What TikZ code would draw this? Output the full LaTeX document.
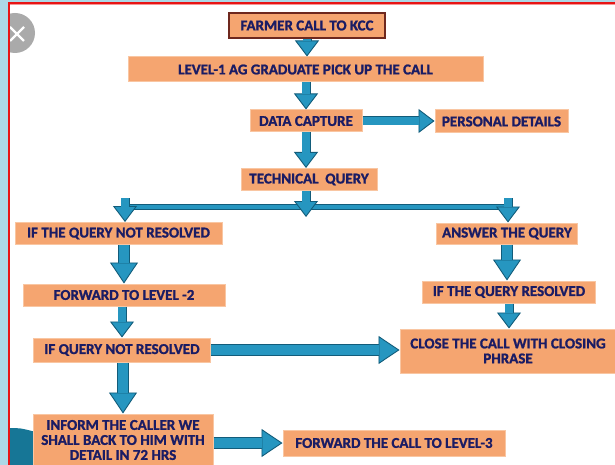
\documentclass[tikz,border=0pt]{standalone}
\usepackage{fontspec}
\setmainfont{Carlito}
\newfontfamily\heavy{Carlito}[FakeBold=1.3]
\usetikzlibrary{arrows.meta}
\definecolor{tl}{RGB}{38,150,192}
\definecolor{dk}{RGB}{18,92,122}
\definecolor{org}{RGB}{245,165,112}
\definecolor{orgedge}{RGB}{249,198,162}
\definecolor{navy}{RGB}{26,28,100}
\definecolor{sky}{RGB}{173,216,230}
\definecolor{framered}{RGB}{232,20,20}
\definecolor{maroon}{RGB}{110,40,30}
\definecolor{btn}{RGB}{170,170,170}
\definecolor{deepteal}{RGB}{22,118,150}
\newcommand\conn[5]{%
  \pgfmathsetlengthmacro\cinw{#1-1.8pt}%
  \pgfmathsetlengthmacro\cinsh{#3-0.7pt}%
  \draw[draw=dk, line width=#1, -{Triangle[width=#2,length=#3,fill=tl,line width=0.9pt]}] (#4) -- (#5);
  \draw[draw=tl, line width=\cinw, shorten >=\cinsh] (#4) -- (#5);
}
\newcommand\thinconn[2]{\conn{9pt}{24pt}{16pt}{#1}{#2}}
\newcommand\thickconn[2]{\conn{12pt}{28pt}{21pt}{#1}{#2}}
\begin{document}
\begin{tikzpicture}[x=1pt,y=-1pt,
  box/.style={fill=org, draw=orgedge, line width=1pt, inner sep=0pt, align=center,
    text=navy, font=\fontsize{15}{15}\selectfont\heavy\bfseries}]
\useasboundingbox (0,0) rectangle (615,465);
% screen frame
\fill[sky] (0,0) rectangle (615,465);
\fill[white] (9,4) rectangle (615,465);
\fill[deepteal] (9,465) -- (9,428) .. controls (20,428) .. (36,432) -- (36,465) -- cycle;
\begin{scope}
  \clip (9,4) rectangle (100,100);
  \fill[btn] (15,33) circle (20);
  \draw[white, line width=2.2pt] (10,27) -- (24,41) (10,41) -- (24,27);
\end{scope}
% boxes
\node[box, draw=maroon, line width=1.5pt, minimum width=156pt, minimum height=25pt] (farmer) at (307,25.5) {FARMER CALL TO KCC};
\node[box, minimum width=355pt, minimum height=25pt] (lvl1) at (305.5,69.5) {LEVEL-1 AG GRADUATE PICK UP THE CALL};
\node[box, minimum width=112pt, minimum height=22pt] (dc) at (306,121) {DATA CAPTURE};
\node[box, minimum width=133pt, minimum height=23pt] (pd) at (501.5,121.5) {PERSONAL DETAILS};
\node[box, minimum width=136pt, minimum height=22pt] (tq) at (309,179.5) {TECHNICAL\ \ QUERY};
\node[box, minimum width=207pt, minimum height=22pt] (iqnr) at (118.5,233.5) {IF THE QUERY NOT RESOLVED};
\node[box, minimum width=141pt, minimum height=21pt] (aq) at (507,233.5) {ANSWER THE QUERY};
\node[box, minimum width=202pt, minimum height=22pt] (fl2) at (124,295) {FORWARD TO LEVEL -2};
\node[box, minimum width=173pt, minimum height=22pt] (iqr) at (509,292) {IF THE QUERY RESOLVED};
\node[box, minimum width=177pt, minimum height=24pt] (iqnr2) at (122,350) {IF QUERY NOT RESOLVED};
\node[box, minimum width=216pt, minimum height=44pt] (close) at (508,351) {CLOSE THE CALL WITH CLOSING\\PHRASE};
\node[box, minimum width=180pt, minimum height=52pt] (inform) at (123,440) {INFORM THE CALLER WE\\SHALL BACK TO HIM WITH\\DETAIL IN 72 HRS};
\node[box, minimum width=222pt, minimum height=26pt] (fl3) at (394,443) {FORWARD THE CALL TO LEVEL-3};
% junction coordinates
\coordinate (tqend) at (306,217);
\coordinate (barL) at (125,207);
\coordinate (barR) at (508,207);
\coordinate (lTop) at (125,198);
\coordinate (rTop) at (508,198);
% connectors
\thinconn{farmer.south}{farmer.south |- lvl1.north}
\thinconn{dc.north |- lvl1.south}{dc.north}
\thinconn{dc.east}{dc.east -| pd.west}
\thinconn{dc.south}{dc.south |- tq.north}
\draw[dk, line width=6.5pt] (barL) -- (barR);
\draw[tl, line width=4.5pt] (barL) -- (barR);
\thinconn{tqend |- tq.south}{tqend}
\thinconn{lTop}{lTop |- iqnr.north}
\thinconn{rTop}{rTop |- aq.north}
\thickconn{fl2.north |- iqnr.south}{fl2.north}
\thickconn{aq.south}{aq.south |- iqr.north}
\thinconn{iqnr2.north |- fl2.south}{iqnr2.north}
\thinconn{iqr.south}{iqr.south |- close.north}
\thickconn{iqnr2.east}{iqnr2.east -| close.west}
\thickconn{inform.north |- iqnr2.south}{inform.north}
\thickconn{fl3.west -| inform.east}{fl3.west}
% red frame lines
\fill[framered!45] (9,4) rectangle (615,5);
\fill[framered] (8,2) rectangle (615,4);
\fill[framered] (8,2) rectangle (10,465);
\end{tikzpicture}
\end{document}
